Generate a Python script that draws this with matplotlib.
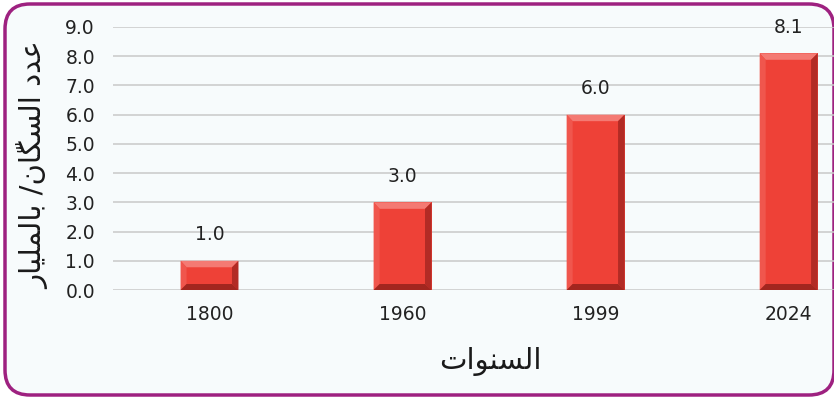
import matplotlib
matplotlib.use("Agg")
import matplotlib.pyplot as plt
from matplotlib.patches import FancyBboxPatch, Polygon

years = ["1800", "1960", "1999", "2024"]
population = [1.0, 3.0, 6.0, 8.1]
y_ticks = [0, 1, 2, 3, 4, 5, 6, 7, 8, 9]

y_title = "عدد السكّان/ بالمليار"
x_title = "السنوات"

# contextual forms: isolated, final, initial, medial
FORMS = {
    'ا': ('\uFE8D', '\uFE8E', None, None),
    'ب': ('\uFE8F', '\uFE90', '\uFE91', '\uFE92'),
    'ت': ('\uFE95', '\uFE96', '\uFE97', '\uFE98'),
    'د': ('\uFEA9', '\uFEAA', None, None),
    'ر': ('\uFEAD', '\uFEAE', None, None),
    'س': ('\uFEB1', '\uFEB2', '\uFEB3', '\uFEB4'),
    'ع': ('\uFEC9', '\uFECA', '\uFECB', '\uFECC'),
    'ك': ('\uFED9', '\uFEDA', '\uFEDB', '\uFEDC'),
    'ل': ('\uFEDD', '\uFEDE', '\uFEDF', '\uFEE0'),
    'م': ('\uFEE1', '\uFEE2', '\uFEE3', '\uFEE4'),
    'ن': ('\uFEE5', '\uFEE6', '\uFEE7', '\uFEE8'),
    'و': ('\uFEED', '\uFEEE', None, None),
    'ي': ('\uFEF1', '\uFEF2', '\uFEF3', '\uFEF4'),
}
MARKS = {'\u0651'}


def shape(text):
    # group letters with their marks
    clusters = []
    for ch in text:
        if ch in MARKS and clusters:
            clusters[-1].append(ch)
        else:
            clusters.append([ch])
    out = []
    for i, cl in enumerate(clusters):
        ch = cl[0]
        if ch not in FORMS:
            out.append(cl)
            continue
        prev = clusters[i - 1][0] if i > 0 else None
        nxt = clusters[i + 1][0] if i + 1 < len(clusters) else None
        iso, fin, ini, med = FORMS[ch]
        join_prev = prev in FORMS and FORMS[prev][2] is not None
        join_next = nxt in FORMS and ini is not None
        if join_prev and join_next:
            g = med
        elif join_prev:
            g = fin
        elif join_next:
            g = ini
        else:
            g = iso
        out.append([g] + cl[1:])
    # visual order, marks ahead of their letter
    return "".join("".join(reversed(c)) for c in reversed(out))


fig = plt.figure(figsize=(8.34, 3.99), dpi=100)
fig.patch.set_facecolor("white")

frame = FancyBboxPatch((5 / 834, 4 / 399), 829 / 834, 391 / 399,
                       boxstyle="round,pad=0,rounding_size=0.03",
                       transform=fig.transFigure, facecolor="#f7fbfc",
                       edgecolor="#9e2180", linewidth=2.5, zorder=-1,
                       mutation_aspect=834 / 399)
fig.patches.append(frame)

ax = fig.add_axes([113 / 834, 109 / 399, 721 / 834, 263 / 399])
ax.set_facecolor("none")
for s in ax.spines.values():
    s.set_visible(False)

x = list(range(len(years)))
width = 0.3
bars = ax.bar(x, population, width=width, color="#ee4137", zorder=3)

ax.set_xlim(-0.5, 3.235)
ax.set_ylim(0, 9)
ax.set_yticks(y_ticks)
ax.set_yticklabels([f"{v:.1f}" for v in y_ticks])
ax.set_xticks(x)
ax.set_xticklabels(years)
ax.tick_params(axis="y", length=0, pad=13, labelsize=13.5, labelcolor="#222222")
ax.tick_params(axis="x", length=0, pad=11, labelsize=13.5, labelcolor="#222222")
ax.yaxis.grid(True, color="#c9c9c9", linewidth=1.1)
ax.set_axisbelow(True)

# bevel edges, sized in pixels
px_x = 721 / (3.235 + 0.5)
px_y = 263 / 9
for rect in bars:
    x0, y0 = rect.get_x(), rect.get_y()
    x1, y1 = x0 + rect.get_width(), y0 + rect.get_height()
    ix0, ix1 = x0 + 6 / px_x, x1 - 6.5 / px_x
    iy0, iy1 = y0 + 6 / px_y, y1 - 6.5 / px_y
    sides = [
        ([(x0, y1), (x1, y1), (ix1, iy1), (ix0, iy1)], "#f47a73"),
        ([(x0, y0), (x0, y1), (ix0, iy1), (ix0, iy0)], "#f0564d"),
        ([(x1, y0), (x1, y1), (ix1, iy1), (ix1, iy0)], "#b22b25"),
        ([(x0, y0), (x1, y0), (ix1, iy0), (ix0, iy0)], "#a2261f"),
    ]
    for pts, c in sides:
        ax.add_patch(Polygon(pts, closed=True, facecolor=c, edgecolor="none", zorder=4))

ax.bar_label(bars, labels=[f"{v:.1f}" for v in population], padding=12,
             fontsize=13.5, color="#222222")

fig.text(33 / 834, 1 - 165 / 399, shape(y_title), rotation=90, ha="center",
         va="center", fontsize=21, family="DejaVu Sans", color="#1a1a1a")
fig.text(490 / 834, 1 - 362 / 399, shape(x_title), ha="center", va="center",
         fontsize=21, family="DejaVu Sans", color="#1a1a1a")

fig.savefig("out.png", dpi=100)
